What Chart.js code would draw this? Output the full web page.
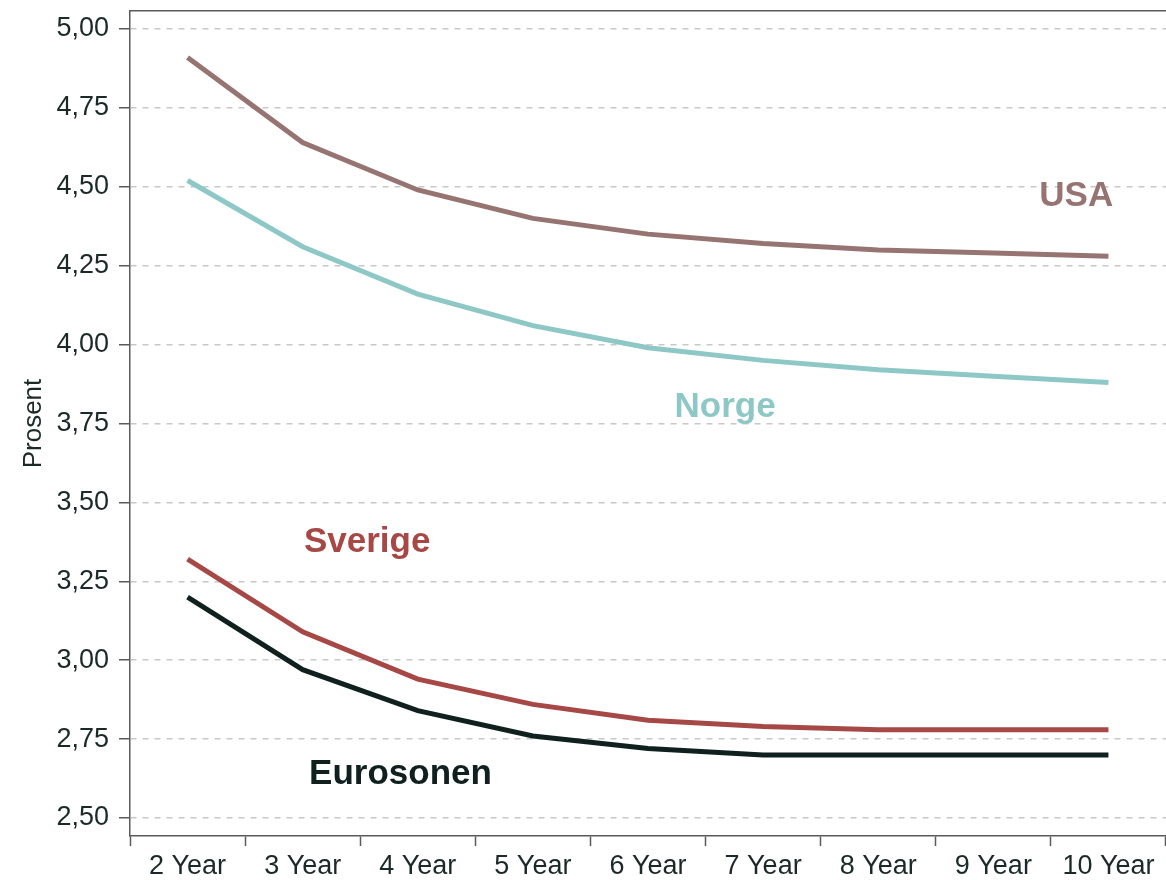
<!DOCTYPE html>
<html>
<head>
<meta charset="utf-8">
<script src="https://cdn.jsdelivr.net/npm/chart.js@4.4.1/dist/chart.umd.min.js"></script>
<style>
  html, body { margin: 0; padding: 0; background: #fff; }
  #wrap { width: 1166px; height: 880px; position: relative; }
</style>
</head>
<body>
<div id="wrap"><canvas id="myChart"></canvas></div>
<script>
// maturities
var labels = ['2 Year', '3 Year', '4 Year', '5 Year', '6 Year', '7 Year', '8 Year', '9 Year', '10 Year'];

// yields, percent
var usa       = [4.91, 4.64, 4.49, 4.40, 4.35, 4.32, 4.30, 4.29, 4.28];
var norge     = [4.52, 4.31, 4.16, 4.06, 3.99, 3.95, 3.92, 3.90, 3.88];
var sverige   = [3.32, 3.09, 2.94, 2.86, 2.81, 2.79, 2.78, 2.78, 2.78];
var eurosonen = [3.20, 2.97, 2.84, 2.76, 2.72, 2.70, 2.70, 2.70, 2.70];

// y tick labels
var yTicks = [2.50, 2.75, 3.00, 3.25, 3.50, 3.75, 4.00, 4.25, 4.50, 4.75, 5.00];

var textColor = '#1b2a28';
var axisColor = '#5a5a5a';

// series names written next to the lines (x = category index, y = percent)
var seriesNames = [
    { text: 'USA',       color: '#967472', x: 7.72, y: 4.47 },
    { text: 'Norge',     color: '#8ec8c6', x: 4.67, y: 3.80 },
    { text: 'Sverige',   color: '#a64845', x: 1.56, y: 3.373 },
    { text: 'Eurosonen', color: '#0f201e', x: 1.85, y: 2.638 }
];

const nameLabels = {
    id: 'nameLabels',
    afterDatasetsDraw(chart) {
        const ctx = chart.ctx;
        const xs = chart.scales.x;
        const ys = chart.scales.y;
        ctx.save();
        ctx.font = 'bold 35px "Liberation Sans", Arial, sans-serif';
        ctx.textAlign = 'center';
        ctx.textBaseline = 'middle';
        seriesNames.forEach(function (s) {
            ctx.fillStyle = s.color;
            ctx.fillText(s.text, xs.getPixelForValue(s.x), ys.getPixelForValue(s.y));
        });
        ctx.restore();
    }
};

function line(values, color) {
    return {
        data: values,
        borderColor: color,
        backgroundColor: color,
        borderWidth: 5,
        pointRadius: 0,
        pointHoverRadius: 0,
        tension: 0,
        fill: false
    };
}

const data = {
    labels: labels,
    datasets: [
        line(usa, '#967472'),
        line(norge, '#8ec8c6'),
        line(sverige, '#a64845'),
        line(eurosonen, '#0f201e')
    ]
};

const config = {
    type: 'line',
    data,
    plugins: [nameLabels],
    options: {
        responsive: true,
        maintainAspectRatio: false,
        animation: false,
        layout: { padding: 0 },
        plugins: {
            legend: { display: false },
            tooltip: { enabled: false }
        },
        scales: {
            x: {
                type: 'category',
                offset: true,
                grid: {
                    offset: true,
                    drawOnChartArea: false,
                    drawTicks: true,
                    tickLength: 10,
                    tickColor: axisColor,
                    tickWidth: 1.5
                },
                border: { display: true, color: axisColor, width: 1.5 },
                ticks: {
                    color: textColor,
                    padding: 4,
                    maxRotation: 0,
                    autoSkip: false,
                    font: { family: '"Liberation Sans", Arial, sans-serif', size: 27 }
                },
                afterFit(scale) {
                    scale.height = 44;
                    scale.paddingLeft = 0;
                    scale.paddingRight = 0;
                }
            },
            top: {
                type: 'category',
                position: 'top',
                labels: labels,
                grid: { display: false, drawTicks: false },
                ticks: { display: false },
                border: { display: true, color: axisColor, width: 1.5 },
                afterFit(scale) { scale.height = 11; }
            },
            y: {
                type: 'linear',
                min: 2.443,
                max: 5.057,
                afterBuildTicks(scale) {
                    scale.ticks = yTicks.map(function (v) { return { value: v }; });
                },
                grid: {
                    color: '#c8c8c8',
                    lineWidth: 1.5,
                    tickLength: 11,
                    tickColor: axisColor,
                    tickWidth: 1.5,
                    tickBorderDash: []
                },
                border: { display: true, color: axisColor, width: 1.5, dash: [6, 6] },
                ticks: {
                    color: textColor,
                    padding: 10,
                    font: { family: '"Liberation Sans", Arial, sans-serif', size: 27 },
                    callback: function (value) {
                        return Number(value).toFixed(2).replace('.', ',');
                    }
                },
                title: {
                    display: true,
                    text: 'Prosent',
                    color: textColor,
                    padding: { top: 18, bottom: 0 },
                    font: { family: '"Liberation Sans", Arial, sans-serif', size: 26 }
                },
                afterFit(scale) {
                    scale.width = 130;
                    scale.paddingTop = 0;
                    scale.paddingBottom = 0;
                }
            }
        }
    }
};

const myChart = new Chart(document.getElementById('myChart'), config);
</script>
</body>
</html>
